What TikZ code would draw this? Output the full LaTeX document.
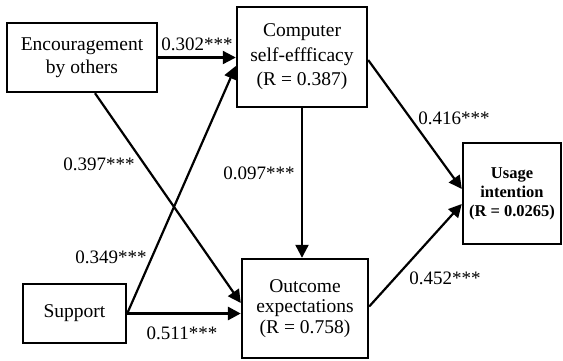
\documentclass[tikz,border=0pt]{standalone}
\usepackage{fontspec}
\setmainfont{Liberation Serif}
\usetikzlibrary{arrows.meta}
\begin{document}
\begin{tikzpicture}[x=1pt,y=-1pt,
  box/.style={draw,line width=2.4pt,align=center,inner sep=0pt,
    font=\fontsize{19.5}{23}\selectfont},
  lbl/.style={inner sep=0pt,font=\fontsize{19}{22}\selectfont},
  arr/.style={line width=2.2pt,-{Triangle[length=13pt,width=13pt]}}]
\useasboundingbox[fill=white] (0,0) rectangle (563,360);
\node[box,minimum width=150pt,minimum height=69pt] (enc) at (82,57.5) {Encouragement\\by others};
\node[box,minimum width=130pt,minimum height=100pt,font=\fontsize{19.5}{24.5}\selectfont] (comp) at (302,57) {Computer\\self-effficacy\\(R = 0.387)};
\node[box,minimum width=98pt,minimum height=101pt,font=\bfseries\fontsize{16.5}{19}\selectfont] (use) at (512,193.5) {Usage\\intention\\(R = 0.0265)};
\node[box,minimum width=126pt,minimum height=99pt,font=\fontsize{19.5}{20.5}\selectfont] (outc) at (305,308.5) {Outcome\\expectations\\(R = 0.758)};
\node[box,minimum width=103pt,minimum height=59pt] (supp) at (74.5,313.5) {Support};
\draw[arr] (enc.east) -- (enc.east -| comp.west);
\draw[arr] ([xshift=13pt]enc.south) -- ([yshift=5.5pt]outc.west);
\draw[arr] (supp.east) -- ([yshift=-9pt]comp.west);
\draw[arr,line width=3pt] (supp.east) -- (supp.east -| outc.west);
\draw[arr] (comp.south) -- (comp.south |- outc.north);
\draw[arr] ([yshift=-3pt]comp.east) -- ([yshift=4.5pt]use.west);
\draw[arr] ([yshift=2pt]outc.east) -- ([yshift=-10.5pt]use.west);
\node[lbl] (l1) at (197,44) {0.302***};
\node[lbl] (l2) at (99,164) {0.397***};
\node[lbl] (l3) at (259,173) {0.097***};
\node[lbl] (l4) at (454,118) {0.416***};
\node[lbl] (l5) at (111,257) {0.349***};
\node[lbl] (l6) at (182,333) {0.511***};
\node[lbl] (l7) at (445,278) {0.452***};
\end{tikzpicture}
\end{document}
